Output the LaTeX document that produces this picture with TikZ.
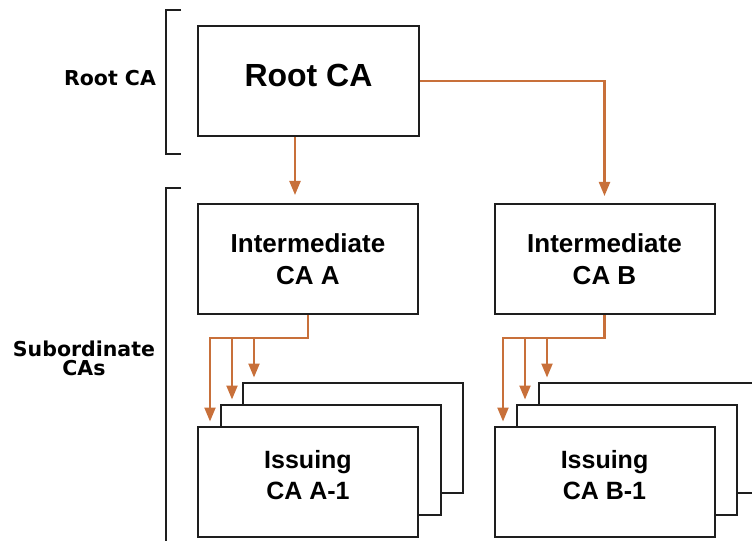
\documentclass[tikz,border=0pt]{standalone}
\usepackage{fontspec}
\setmainfont{Liberation Sans}
\newfontfamily\sidefont{DejaVu Sans}
\usetikzlibrary{arrows.meta}
\definecolor{linkorange}{RGB}{200,112,58}
\definecolor{boxline}{RGB}{30,30,30}
\tikzstyle{ca}=[shape=rectangle,
                draw=boxline,
                line width=2pt,
                fill=white,
                minimum width=220pt,
                minimum height=110pt,
                inner sep=0pt,
                align=center,
                font=\bfseries\fontsize{26}{32}\selectfont]
\tikzstyle{iss}=[ca,
                text depth=14pt,
                font=\bfseries\fontsize{25}{31}\selectfont]
\tikzstyle{lbl}=[align=center,
                font=\sidefont\bfseries\fontsize{20.5}{19}\selectfont]
\tikzstyle{link}=[draw=linkorange,
                line width=2.2pt,
                -{Triangle[width=11pt,length=14pt]}]
\tikzstyle{brk}=[draw=boxline,
                line width=2pt]

\begin{document}
\begin{tikzpicture}[x=1pt,y=-1pt]
\useasboundingbox (0,0) rectangle (752,548);
\clip (0,0) rectangle (752,548);

% tiers
\node[lbl] (lroot) at (110,78)  {Root CA};
\node[lbl] (lsub)  at (84,358)  {Subordinate\\CAs};
\draw[brk] (181,10) -- (166,10) -- (166,154) -- (181,154);
\draw[brk] (181,188) -- (166,188) -- (166,541);

% root and intermediate CAs
\node[ca,minimum width=221pt,text depth=11pt,font=\bfseries\fontsize{32}{36}\selectfont] (root) at (308.5,81) {Root CA};
\node[ca] (inta) at (308,259)   {Intermediate\\CA A};
\node[ca] (intb) at (604.5,259) {Intermediate\\CA B};

% issuing CAs
\node[iss] (issa3) at (352.5,437.5) {};
\node[iss] (issa2) at (330.5,459.5) {};
\node[iss] (issa1) at (308,481.5)   {Issuing\\CA A-1};
\node[iss] (issb3) at (648.5,437.5) {};
\node[iss] (issb2) at (626.5,459.5) {};
\node[iss] (issb1) at (604.5,481.5) {Issuing\\CA B-1};

% paths
\coordinate (ra) at (295,0);
\draw[link,shorten >=8pt] (root.south -| ra) -- (inta.north -| ra);
\draw[link,shorten >=7pt] (root.east) -| (intb.north);

\coordinate (fan) at (0,338);
\coordinate (fa1) at (210,0);
\coordinate (fa2) at (232,0);
\coordinate (fa3) at (254,0);
\draw[link,shorten >=4pt] (inta.south) |- (fan -| fa1) -- (issa1.north -| fa1);
\draw[link,shorten >=4pt] (fan -| fa2) -- (issa2.north -| fa2);
\draw[link,shorten >=4pt] (fan -| fa3) -- (issa3.north -| fa3);

\coordinate (fb1) at (503,0);
\coordinate (fb2) at (525,0);
\coordinate (fb3) at (547,0);
\draw[link,shorten >=4pt] (intb.south) |- (fan -| fb1) -- (issb1.north -| fb1);
\draw[link,shorten >=4pt] (fan -| fb2) -- (issb2.north -| fb2);
\draw[link,shorten >=4pt] (fan -| fb3) -- (issb3.north -| fb3);

\end{tikzpicture}
\end{document}
